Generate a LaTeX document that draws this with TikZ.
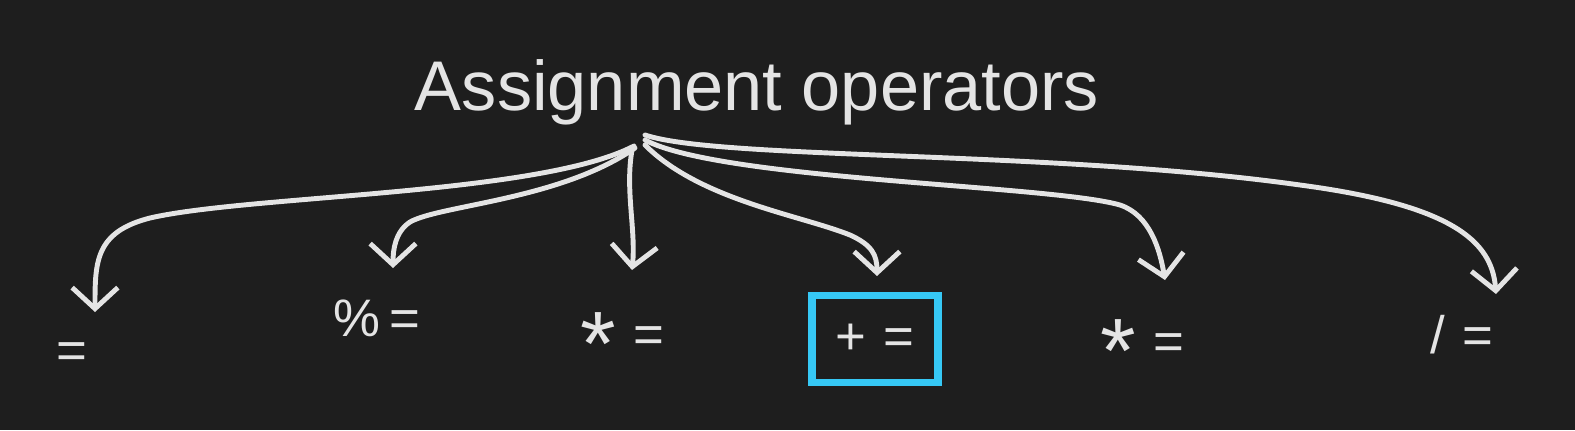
\documentclass[tikz,border=0pt]{standalone}
\usepackage{fontspec}
\setmainfont{Liberation Sans}
\usetikzlibrary{arrows.meta}
\definecolor{bg}{HTML}{1E1E1E}
\definecolor{ink}{HTML}{E4E4E4}
\definecolor{hl}{HTML}{36C8F5}
\newcommand{\bigast}{\raisebox{-0.45em}{\fontsize{26}{26}\selectfont *}}
\begin{document}
\begin{tikzpicture}[x=0.01cm,y=-0.01cm,
  conn/.style={draw=ink,line width=1.4pt,line cap=round,
    -{Straight Barb[length=6pt,width=13pt,line width=1.4pt]}},
  oplabel/.style={text=ink,font=\fontsize{15}{18}\selectfont},
  hlbox/.style={draw=hl,line width=2.2pt,minimum width=1.26cm,minimum height=0.87cm,
    text=ink,font=\fontsize{15}{18}\selectfont}]
\useasboundingbox (0,0) rectangle (1575,430);
\fill[bg] (0,0) rectangle (1575,430);

\node[text=ink,font=\fontsize{20}{24}\selectfont] (title) at (757,92) {Assignment operators};
\coordinate (hub) at (640,138);

\node[oplabel] (eq) at (72,356) {=};
\node[oplabel] (mod) at (377,318) {\%\,=};
\node[oplabel,anchor=base] (mul) at (622,352) {\bigast\,\,=};
\node[hlbox] (add) at (875,339) {+\,\,=};
\node[oplabel,anchor=base] (mul2) at (1142,359) {\bigast\,\,=};
\node[oplabel] (div) at (1462,335) {/\,\,=};

\coordinate (t1) at (95,312);
\coordinate (t2) at (393,268);
\coordinate (t3) at (632,270);
\coordinate (t4) at (877,276);
\coordinate (t5) at (1165,280);
\coordinate (t6) at (1496,294);

\draw[conn] ([shift={(-6,8)}]hub) .. controls (540,195) and (250,195) .. (150,218)
   .. controls (95,232) and (95,262) .. (t1);
\draw[conn] ([shift={(-5,10)}]hub) .. controls (560,200) and (440,205) .. (410,222)
   .. controls (395,232) and (393,250) .. (t2);
\draw[conn] ([shift={(-8,12)}]hub) .. controls (625,190) and (636,230) .. (t3);
\draw[conn] ([shift={(5,7)}]hub) .. controls (700,200) and (800,215) .. (850,235)
   .. controls (872,245) and (877,255) .. (t4);
\draw[conn] ([shift={(5,2)}]hub) .. controls (720,180) and (1050,185) .. (1120,205)
   .. controls (1150,215) and (1160,250) .. (t5);
\draw[conn] ([shift={(5,-3)}]hub) .. controls (720,160) and (1050,150) .. (1300,185)
   .. controls (1450,205) and (1492,240) .. (t6);
\end{tikzpicture}
\end{document}
